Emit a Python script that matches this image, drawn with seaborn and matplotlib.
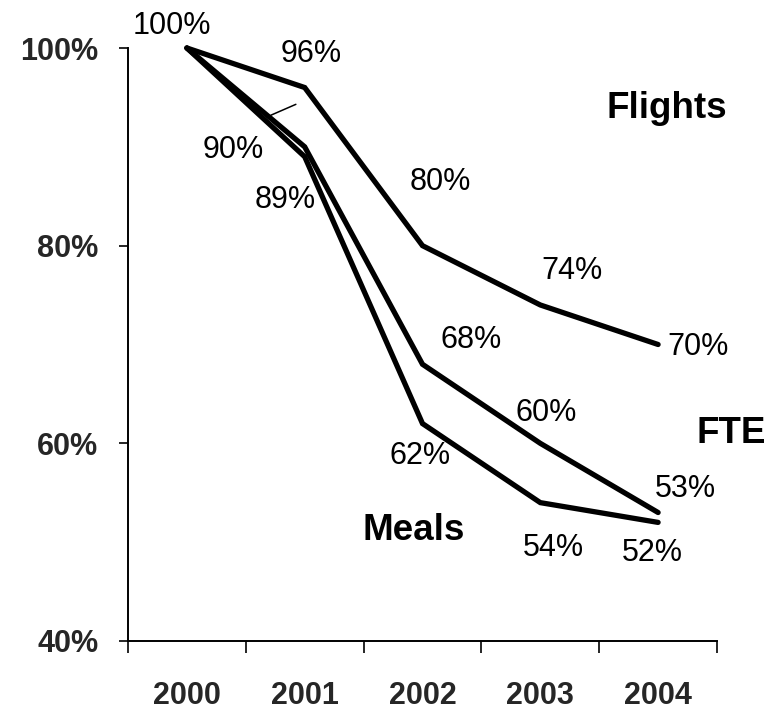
import matplotlib
matplotlib.use("Agg")
import matplotlib.pyplot as plt
import seaborn as sns
import pandas as pd
from matplotlib.ticker import PercentFormatter

# ---- data -------------------------------------------------------------
years = ["2000", "2001", "2002", "2003", "2004"]
flights = [1.00, 0.96, 0.80, 0.74, 0.70]
fte = [1.00, 0.90, 0.68, 0.60, 0.53]
meals = [1.00, 0.89, 0.62, 0.54, 0.52]
y_ticks = [0.4, 0.6, 0.8, 1.0]
series_names = ["Flights", "FTE", "Meals"]

# ---- label placement (offsets in points from each point; None = no label)
label_offsets = {
    "Flights": [(-10.8, 10.4), (5.0, 18.7), (13.0, 40.3), (23.0, 18.4), (28.8, -7.9)],
    "FTE": [None, (-51.8, -8.4), (35.3, 11.5), (4.3, 15.8), (19.4, 11.5)],
    "Meals": [None, (-14.4, -36.7), (-1.4, -28.8), (9.4, -38.2), (-4.3, -28.1)],
}
# series name positions (data coords, baseline-aligned)
name_pos = {"Flights": (4.075, 0.929), "FTE": (4.618, 0.600), "Meals": (1.927, 0.502)}

values = {"Flights": flights, "FTE": fte, "Meals": meals}
rows = []
for name in series_names:
    for i, v in enumerate(values[name]):
        rows.append({"pos": i, "value": v, "series": name})
df = pd.DataFrame(rows)

sns.set_style("ticks")
plt.rcParams["font.family"] = ["Liberation Sans", "DejaVu Sans"]

fig = plt.figure(figsize=(7.81, 7.10), dpi=100)
ax = fig.add_axes([128 / 781, 1 - 641 / 710, 589 / 781, 593 / 710])

sns.lineplot(data=df, x="pos", y="value", hue="series", hue_order=series_names,
             palette=["black"] * 3, linewidth=3.8, legend=False, sort=False, ax=ax)
for ln in ax.lines:
    ln.set_clip_on(False)
    ln.set_solid_capstyle("round")
    ln.set_solid_joinstyle("miter")

ax.set_xlim(-0.5, 4.5)
ax.set_ylim(0.4, 1.0)
ax.set_xlabel("")
ax.set_ylabel("")

# category axis: tick marks between years, labels centred on each year
ax.set_xticks([i - 0.5 for i in range(len(years) + 1)])
ax.set_xticklabels([])
ax.set_xticks(range(len(years)), minor=True)
ax.set_xticklabels(years, minor=True, fontsize=22, fontweight="bold")
ax.tick_params(axis="x", which="major", length=8.6, width=1.4, direction="out")
ax.tick_params(axis="x", which="minor", length=0, pad=29)

ax.set_yticks(y_ticks)
ax.yaxis.set_major_formatter(PercentFormatter(1.0, decimals=0))
ax.tick_params(axis="y", length=6.5, width=1.4, pad=15, labelsize=22)
for lbl in ax.get_yticklabels():
    lbl.set_fontweight("bold")

sns.despine(ax=ax)
for side in ("left", "bottom"):
    ax.spines[side].set_linewidth(1.4)
    ax.spines[side].set_color("black")

# value labels
for name in series_names:
    for i, v in enumerate(values[name]):
        off = label_offsets[name][i]
        if off is None:
            continue
        ax.annotate(f"{v:.0%}", xy=(i, v), xytext=off, textcoords="offset points",
                    ha="center", va="baseline", fontsize=22, color="black")

# series names
for name in series_names:
    x, y = name_pos[name]
    ax.text(x, y, name, ha="center", va="baseline", fontsize=26.5,
            fontweight="bold", color="black", clip_on=False)

# leader line for the 2001 FTE value
ax.annotate("", xy=(0.925, 0.943), xytext=(0.713, 0.932),
            arrowprops=dict(arrowstyle="-", lw=1.1, color="black",
                            shrinkA=0, shrinkB=0))

fig.savefig("out.png", dpi=100)
